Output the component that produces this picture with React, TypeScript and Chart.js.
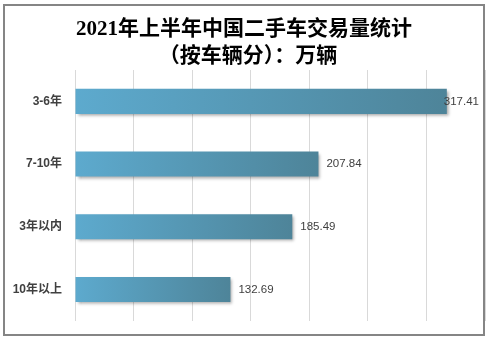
import React, { useEffect, useRef } from "react";
import { Chart, registerables } from "chart.js";

Chart.register(...registerables);

const categories = ["3-6年", "7-10年", "3年以内", "10年以上"];
const values = [317.41, 207.84, 185.49, 132.69];
const titleLines = ["2021年上半年中国二手车交易量统计", "（按车辆分）：万辆"];
const axisMax = 350;
const axisStep = 50;

export default function App() {
  const ref = useRef<HTMLCanvasElement | null>(null);

  useEffect(() => {
    const canvas = ref.current;
    if (!canvas) return;

    const decor = {
      id: "decor",
      beforeDatasetsDraw(chart: any) {
        const ctx = chart.ctx;
        ctx.save();
        ctx.shadowColor = "rgba(0,0,0,0.35)";
        ctx.shadowBlur = 3;
        ctx.shadowOffsetX = 2;
        ctx.shadowOffsetY = 2;
      },
      afterDatasetsDraw(chart: any) {
        const ctx = chart.ctx;
        ctx.restore();
        // value labels
        const meta = chart.getDatasetMeta(0);
        ctx.save();
        ctx.font = '11.5px "Liberation Sans", Arial, sans-serif';
        ctx.fillStyle = "#404040";
        ctx.textBaseline = "middle";
        ctx.textAlign = "left";
        meta.data.forEach((bar: any, i: number) => {
          const txt = values[i].toFixed(2);
          const w = ctx.measureText(txt).width;
          let x = bar.x + 8;
          const limit = chart.width - 9 - w;
          if (x > limit) x = limit;
          ctx.fillText(txt, x, bar.y);
        });
        ctx.restore();
      },
      afterDraw(chart: any) {
        const ctx = chart.ctx;
        ctx.save();
        // title
        ctx.fillStyle = "#000000";
        ctx.textAlign = "center";
        ctx.textBaseline = "middle";
        ctx.font = 'bold 21px "Liberation Serif", "Noto Sans CJK SC", serif';
        ctx.fillText(titleLines[0], chart.width / 2, 30);
        ctx.fillText(titleLines[1], chart.width / 2 + 4, 57);
        // outer border
        ctx.strokeStyle = "#858585";
        ctx.lineWidth = 2;
        ctx.strokeRect(4, 5, 480, 330);
        ctx.restore();
      },
    };

    const chart = new Chart(canvas, {
      type: "bar",
      data: {
        labels: categories,
        datasets: [
          {
            data: values,
            barPercentage: 0.4,
            categoryPercentage: 1.0,
            borderWidth: 0,
            backgroundColor: (c: any) => {
              const ch = c.chart;
              const { ctx, chartArea, scales } = ch;
              if (!chartArea || !scales.x || c.raw == null) return "#5BA8CB";
              const x0 = scales.x.getPixelForValue(0);
              const x1 = scales.x.getPixelForValue(c.raw);
              const g = ctx.createLinearGradient(x0, 0, x1, 0);
              g.addColorStop(0, "#5DAACE");
              g.addColorStop(1, "#4E8499");
              return g;
            },
          },
        ],
      },
      options: {
        indexAxis: "y",
        responsive: false,
        animation: false,
        layout: { padding: { top: 70, bottom: 13, left: 0, right: 3 } },
        plugins: {
          legend: { display: false },
          title: { display: false },
          tooltip: { enabled: false },
        },
        scales: {
          x: {
            min: 0,
            max: axisMax,
            ticks: { display: false, stepSize: axisStep },
            grid: { color: "#d9d9d9", lineWidth: 1, drawTicks: false },
            border: { display: false },
          },
          y: {
            ticks: {
              color: "#404040",
              padding: 13,
              font: { family: '"Liberation Sans", "Noto Sans CJK SC", sans-serif', size: 12, weight: "bold" },
            },
            grid: { display: false, drawTicks: false },
            border: { display: false },
            afterFit: (s: any) => {
              s.width = 75;
            },
          },
        },
      },
      plugins: [decor],
    } as any);

    return () => chart.destroy();
  }, []);

  return (
    <div style={{ position: "fixed", left: 0, top: 0, width: 488, height: 341, background: "#ffffff" }}>
      <canvas ref={ref} width={488} height={341} style={{ display: "block" }} />
    </div>
  );
}
